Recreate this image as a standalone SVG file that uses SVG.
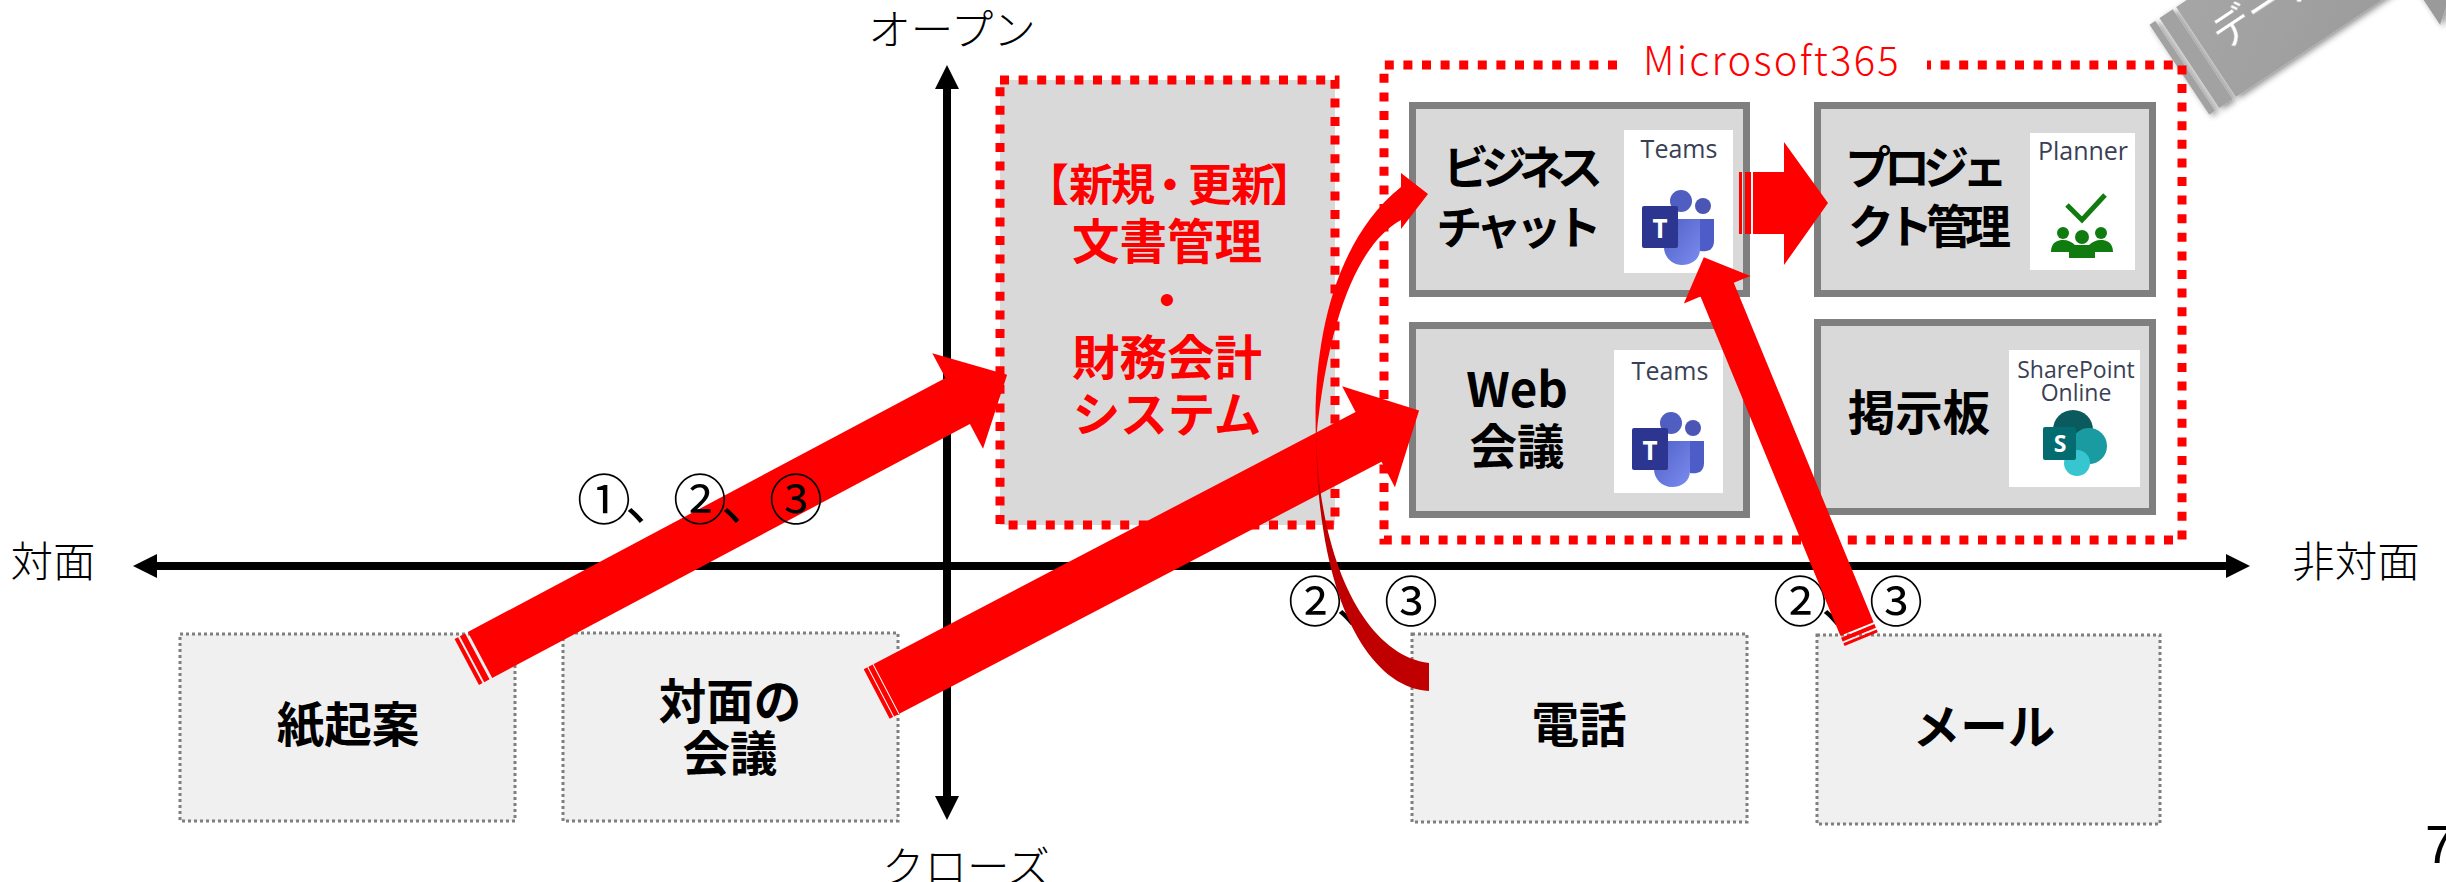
<svg xmlns="http://www.w3.org/2000/svg" width="2446" height="882" viewBox="0 0 2446 882">
<style>
text{font-family:"Noto Sans CJK JP","Noto Sans",sans-serif}
.b{font-size:47.500px;font-weight:700;fill:#000;text-anchor:middle}
.k{font-size:46px;font-weight:700;fill:#000;text-anchor:middle}
.r{font-size:47.500px;font-weight:700;fill:#f00;text-anchor:middle}
.l{font-size:42.500px;font-weight:300;fill:#000;text-anchor:middle}
.n{font-size:54px;font-weight:400;fill:#000;letter-spacing:-6px}
.ms{fill:#d9d9d9;stroke:#7f7f7f;stroke-width:7}
.low{fill:#f0f0f0;stroke:#7f7f7f;stroke-width:3;stroke-dasharray:3 3}
.dash{fill:none;stroke:#f00;stroke-width:9;stroke-dasharray:9 9.6}
.cap{font-family:"Open Sans","Noto Sans",sans-serif;font-size:25px;fill:#3a3f55;text-anchor:middle}
.cap2{font-family:"Open Sans","Noto Sans",sans-serif;font-size:23px;fill:#3a3f55;text-anchor:middle}
.red{fill:#f00}
.wh{fill:#fff}
</style>
<defs>
<marker id="ah" markerUnits="userSpaceOnUse" markerWidth="30" markerHeight="30" refX="6" refY="12" orient="auto-start-reverse"><path d="M0,0L24,12L0,24Z" fill="#000"/></marker>
<linearGradient id="grey" x1="0" y1="0" x2="1" y2="1"><stop offset="0" stop-color="#a8a8a8"/><stop offset="1" stop-color="#969696"/></linearGradient>
<linearGradient id="teamsB" x1="0" y1="0" x2="1" y2="1"><stop offset="0" stop-color="#4f5fc4"/><stop offset="1" stop-color="#7b8cf0"/></linearGradient>
<filter id="sh" x="-20%" y="-20%" width="140%" height="140%"><feDropShadow dx="2" dy="3" stdDeviation="3" flood-color="#000" flood-opacity=".45"/></filter>
<g id="teamsIcon">
<circle cx="39" cy="-4" r="11" fill="#4f5ec0"/>
<circle cx="61" cy="1" r="8" fill="#4b55b5"/>
<path d="M50,14H72V36C72,46 64,47 58,46Z" fill="#4d5cc6"/>
<path d="M22,14H58V44C58,54 50,60 40,60C30,60 22,52 22,42Z" fill="url(#teamsB)"/>
<rect x="0" y="1" width="36" height="42" rx="2" fill="#2c3590"/>
<text x="18" y="33" font-size="26" font-weight="700" fill="#fff" text-anchor="middle" style="font-family:'Open Sans',sans-serif">T</text>
</g>
</defs>

<rect width="2446" height="882" fill="#fff"/>

<g id="data-arrow" transform="translate(2206,52) rotate(-33.6)" filter="url(#sh)">
<path d="M0,-54H210V-107L347,0L210,107V54H0Z" fill="url(#grey)"/>
<rect x="-20" y="-54" width="16" height="108" fill="#a2a2a2"/>
<rect x="-32" y="-54" width="7" height="108" fill="#a2a2a2"/>
<text x="16" y="8" font-size="40" font-weight="400" fill="#fff">データ</text>
</g>

<g id="axes">
<path d="M151,566H2232" stroke="#000" stroke-width="8" marker-start="url(#ah)" marker-end="url(#ah)"/>
<path d="M947,83V802" stroke="#000" stroke-width="8" marker-start="url(#ah)" marker-end="url(#ah)"/>
</g>

<text id="label-open" class="l" x="952" y="45">オープン</text>
<text id="label-close" class="l" x="966" y="882">クローズ</text>
<text id="label-face" class="l" x="53" y="577">対面</text>
<text id="label-remote" class="l" x="2356" y="577">非対面</text>

<g id="node-docs">
<rect x="1000" y="80" width="335" height="445" fill="#d9d9d9"/>
<rect class="dash" x="1000" y="80" width="335" height="445"/>
<text x="1025 1069 1111 1148 1188 1231 1270" y="201" font-size="44" font-weight="700" fill="#f00">【新規・更新】</text>
<text class="r" x="1167" y="259">文書管理</text>
<text class="r" x="1167" y="318">・</text>
<text class="r" x="1167" y="375">財務会計</text>
<text class="r" x="1167" y="432">システム</text>
</g>

<g id="group-m365">
<path class="dash" d="M1617,65H1384V540H2182V65H1927"/>
<text x="1772" y="75" font-size="40" fill="#f00" text-anchor="middle" letter-spacing="2.200" font-weight="300">Microsoft365</text>
</g>

<g id="node-chat">
<rect class="ms" x="1412.5" y="105.500" width="334" height="188"/>
<rect class="wh" x="1624" y="130" width="109" height="143"/>
<text class="cap" x="1679" y="158">Teams</text>
<use href="#teamsIcon" x="1642" y="205"/>
<text class="k" x="1519" y="184" letter-spacing="-8">ビジネス</text>
<text class="k" x="1516" y="244" letter-spacing="-6">チャット</text>
</g>

<g id="node-web">
<rect class="ms" x="1412.5" y="325.500" width="334" height="189"/>
<rect class="wh" x="1614" y="350" width="109" height="143"/>
<text class="cap" x="1670" y="380">Teams</text>
<use href="#teamsIcon" x="1632" y="427"/>
<text class="b" x="1517" y="407">Web</text>
<text class="b" x="1517" y="464">会議</text>
</g>

<g id="node-project">
<rect class="ms" x="1817.500" y="105.500" width="335" height="188"/>
<rect class="wh" x="2030" y="133" width="105" height="137"/>
<text class="cap" x="2083" y="160">Planner</text>
<path d="M2067,205L2082,220L2105,195" fill="none" stroke="#107c10" stroke-width="5"/>
<g fill="#107c10">
<circle cx="2063" cy="233" r="6"/><circle cx="2101" cy="233" r="6"/><circle cx="2082" cy="237" r="7"/>
<path d="M2051,252C2051,242 2058,240 2063,240C2068,240 2072,242 2075,245L2089,245C2092,242 2096,240 2101,240C2106,240 2113,242 2113,252H2095V258H2069V252Z"/>
</g>
<text class="k" x="1923" y="184" letter-spacing="-7">プロジェ</text>
<text class="k" x="1926" y="243" letter-spacing="-7">クト管理</text>
</g>

<g id="node-board">
<rect class="ms" x="1817.500" y="322.500" width="335" height="189"/>
<rect class="wh" x="2009" y="350" width="131" height="137"/>
<text class="cap2" x="2076" y="378">SharePoint</text>
<text class="cap2" x="2076" y="401">Online</text>
<circle cx="2073" cy="430" r="20" fill="#0b5a5e"/>
<circle cx="2089" cy="446" r="18" fill="#1a9ba1"/>
<circle cx="2077" cy="463" r="13" fill="#37c6d0"/>
<rect x="2043" y="427" width="33" height="33" rx="2" fill="#036c70"/>
<text x="2060" y="452" font-size="23" font-weight="700" fill="#fff" text-anchor="middle" style="font-family:'Open Sans',sans-serif">S</text>
<text class="b" x="1919" y="430">掲示板</text>
</g>

<g id="node-paper"><rect class="low" x="180" y="634" width="335" height="187"/><text class="b" x="348" y="742">紙起案</text></g>
<g id="node-meeting"><rect class="low" x="563" y="633" width="335" height="188"/><text class="b" x="730" y="719">対面の</text><text class="b" x="730" y="771">会議</text></g>
<g id="node-phone"><rect class="low" x="1412" y="634" width="335" height="188"/><text class="b" x="1579" y="742">電話</text></g>
<g id="node-mail"><rect class="low" x="1817" y="635" width="343" height="189"/><text class="b" x="1984" y="744">メール</text></g>

<text id="label-23a" class="n" x="1288" y="622">②、③</text>
<text id="label-23b" class="n" x="1773" y="622">②、③</text>

<g id="connectors">
<g transform="translate(480,655) rotate(-28)">
<path class="red" d="M0,-26H541V-54L597,0L541,54V26H0Z"/>
<rect class="red" x="-9" y="-26" width="6" height="52"/><rect class="red" x="-15" y="-26" width="4" height="52"/>
</g>
<g transform="translate(890,687) rotate(-27.600)">
<path class="red" d="M-15,-28H540V-57L597,0L540,57V28H-15Z"/>
<rect class="wh" x="-5" y="-28" width="1" height="56"/><rect class="wh" x="-11" y="-28" width="1" height="56"/>
</g>
<g transform="translate(1857,629) rotate(-112.400)">
<path class="red" d="M0,-18H367V-36L402,0L367,36V18H0Z"/>
<rect class="red" x="-6" y="-18" width="4" height="36"/><rect class="red" x="-11" y="-18" width="3" height="36"/>
</g>
<path class="red" d="M1753,172H1784V142L1828,203L1784,265V234H1753Z"/>
<rect class="red" x="1739" y="172" width="3" height="62"/><rect class="red" x="1745" y="172" width="6" height="62"/>
<path d="M1429,691C1370,688 1316,600 1316,430C1318,560 1365,655 1429,663Z" fill="#c00000"/>
<path class="red" d="M1316,440C1312,340 1335,240 1401,187V173L1428,194L1401,229V220C1365,240 1330,300 1316,440Z"/>
</g>

<text id="label-123" class="n" x="577" y="520">①、②、③</text>
<text id="page" x="2425" y="863" font-size="54" fill="#000" style="font-family:'Liberation Sans',sans-serif">7</text>
</svg>
